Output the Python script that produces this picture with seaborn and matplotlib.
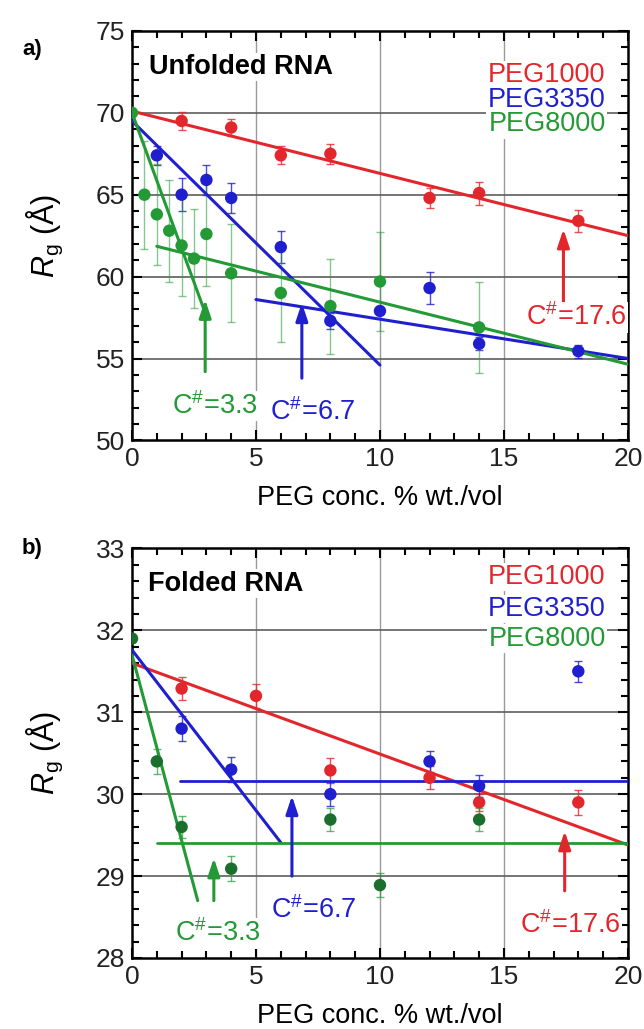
import numpy as np
import pandas as pd
import seaborn as sns
import matplotlib.pyplot as plt
from matplotlib.ticker import MultipleLocator

RED = "#e3262b"
BLUE = "#1f1fd0"
GREEN = "#239a35"
DKGREEN = "#1c6e2c"

# ---- panel a) unfolded RNA ----
a_peg1000_x = [2, 4, 6, 8, 12, 14, 18]
a_peg1000_y = [69.5, 69.1, 67.4, 67.5, 64.8, 65.1, 63.4]
a_peg1000_err = [0.55, 0.5, 0.55, 0.6, 0.6, 0.7, 0.65]
a_peg3350_x = [1, 2, 3, 4, 6, 8, 10, 12, 14, 18]
a_peg3350_y = [67.4, 65.0, 65.9, 64.8, 61.8, 57.3, 57.9, 59.3, 55.9, 55.45]
a_peg3350_err = [0.6, 1.0, 0.9, 0.9, 1.0, 0.5, 0.0, 1.0, 0.4, 0.4]
a_peg8000_x = [0, 0.5, 1, 1.5, 2, 2.5, 3, 4, 6, 8, 10, 14]
a_peg8000_y = [70.0, 65.0, 63.8, 62.8, 61.9, 61.1, 62.6, 60.2, 59.0, 58.2, 59.7, 56.9]
a_peg8000_err = [0.0, 3.3, 3.1, 3.1, 3.1, 3.0, 3.2, 3.0, 3.0, 2.9, 3.0, 2.8]

a_fit_red = ([0, 20], [70.1, 62.5])
a_fit_blue1 = ([0, 10], [69.5, 54.6])
a_fit_blue2 = ([5, 20], [58.6, 55.0])
a_fit_green1 = ([0, 2.9], [70.0, 58.0])
a_fit_green2 = ([1, 20], [61.85, 54.65])

# ---- panel b) folded RNA ----
b_peg1000_x = [2, 5, 8, 12, 14, 18]
b_peg1000_y = [31.29, 31.2, 30.29, 30.2, 29.9, 29.9]
b_peg1000_err = [0.14, 0.15, 0.15, 0.14, 0.1, 0.15]
b_peg3350_x = [2, 4, 8, 12, 14, 18]
b_peg3350_y = [30.8, 30.3, 30.0, 30.4, 30.1, 31.5]
b_peg3350_err = [0.15, 0.15, 0.15, 0.13, 0.13, 0.13]
b_peg8000_x = [0, 1, 2, 4, 8, 10, 14]
b_peg8000_y = [31.9, 30.4, 29.6, 29.09, 29.69, 28.89, 29.69]
b_peg8000_err = [0.0, 0.15, 0.13, 0.15, 0.14, 0.15, 0.14]

b_fit_red = ([0, 20], [31.6, 29.38])
b_fit_blue1 = ([0, 6], [31.76, 29.41])
b_fit_blue2 = ([1.95, 20], [30.16, 30.16])
b_fit_green1 = ([0, 2.65], [31.7, 28.7])
b_fit_green2 = ([1, 20], [29.4, 29.4])

sns.set_theme(style="white")
plt.rcParams['font.family'] = ['Liberation Sans', 'DejaVu Sans']
plt.rcParams['mathtext.fontset'] = 'custom'
plt.rcParams['mathtext.rm'] = 'Liberation Sans'
plt.rcParams['mathtext.it'] = 'Liberation Sans:italic'
plt.rcParams['mathtext.bf'] = 'Liberation Sans:bold'
plt.rcParams['text.color'] = 'black'
plt.rcParams['axes.labelcolor'] = 'black'
plt.rcParams['xtick.labelcolor'] = '#222222'
plt.rcParams['ytick.labelcolor'] = '#222222'

fig = plt.figure(figsize=(6.44, 10.29), dpi=100)
ax1 = fig.add_axes([0.205, 0.572, 0.770, 0.398])
ax2 = fig.add_axes([0.205, 0.069, 0.770, 0.398])

FS = 19
TFS = 19.5


def style_axis(ax, ylo, yhi, ymaj, ymin):
    ax.set_xlim(0, 20)
    ax.set_ylim(ylo, yhi)
    ax.xaxis.set_major_locator(MultipleLocator(5))
    ax.xaxis.set_minor_locator(MultipleLocator(1))
    ax.yaxis.set_major_locator(MultipleLocator(ymaj))
    ax.yaxis.set_minor_locator(MultipleLocator(ymin))
    ax.tick_params(which='both', direction='in', top=True, right=True,
                   bottom=True, left=True, width=1.5, color='black')
    ax.tick_params(which='major', length=7, labelsize=FS, pad=5)
    ax.tick_params(which='minor', length=5)
    for s in ax.spines.values():
        s.set_linewidth(1.8)
        s.set_color('black')
    for v in [5, 10, 15]:
        ax.axvline(v, color='#9a9a9a', lw=1.0, zorder=0)
    yt = np.arange(ylo + ymaj, yhi, ymaj)
    for v in yt:
        ax.axhline(v, color='#5e5e5e', lw=1.2, zorder=0)
    ax.set_xlabel("PEG conc. % wt./vol", fontsize=TFS, labelpad=10)
    ax.set_ylabel(r"$R_{\rm g}$ (Å)", fontsize=22, labelpad=22)


def series(ax, x, y, err, col, ecol, ealpha, ms=80):
    ax.errorbar(x, y, yerr=err, fmt='none', ecolor=ecol, alpha=ealpha,
                elinewidth=1.0, capsize=3, capthick=1.0, zorder=2)
    df = pd.DataFrame({'x': x, 'y': y})
    sns.scatterplot(data=df, x='x', y='y', ax=ax, color=col, s=ms,
                    edgecolor='none', zorder=4)


def fit(ax, pts, col, lw=2.2):
    df = pd.DataFrame({'x': pts[0], 'y': pts[1]})
    sns.lineplot(data=df, x='x', y='y', ax=ax, color=col, lw=lw, zorder=3,
                 estimator=None, sort=False)


def arrow(ax, x, ytip, ytail, col):
    ax.annotate('', xy=(x, ytip), xytext=(x, ytail),
                arrowprops=dict(arrowstyle='-|>,head_width=0.3,head_length=0.9',
                                color=col, lw=2.2, shrinkA=0, shrinkB=0),
                zorder=5)


box = dict(fc='white', ec='none', pad=1.0)

# panel a
style_axis(ax1, 50, 75, 5, 1)
fit(ax1, a_fit_red, RED)
fit(ax1, a_fit_blue1, BLUE)
fit(ax1, a_fit_blue2, BLUE)
fit(ax1, a_fit_green1, GREEN)
fit(ax1, a_fit_green2, GREEN)
series(ax1, a_peg1000_x, a_peg1000_y, a_peg1000_err, RED, RED, 0.8)
series(ax1, a_peg3350_x, a_peg3350_y, a_peg3350_err, BLUE, BLUE, 0.8)
series(ax1, a_peg8000_x, a_peg8000_y, a_peg8000_err, GREEN, GREEN, 0.55)
arrow(ax1, 2.95, 58.6, 54.2, GREEN)
arrow(ax1, 6.85, 58.4, 53.8, BLUE)
arrow(ax1, 17.4, 62.9, 58.3, RED)
ax1.text(1.6, 52.1, r"C$^{\#}$=3.3", color=GREEN, fontsize=TFS, va='center', bbox=box, zorder=6)
ax1.text(5.55, 51.7, r"C$^{\#}$=6.7", color=BLUE, fontsize=TFS, va='center', bbox=box, zorder=6)
ax1.text(19.95, 57.5, r"C$^{\#}$=17.6", color=RED, fontsize=TFS, va='center', ha='right', bbox=box, zorder=6)
ax1.text(0.7, 72.8, "Unfolded RNA", fontsize=TFS, fontweight='bold', va='center', bbox=box, zorder=6)
for lab, col, yy in [("PEG1000", RED, 72.3), ("PEG3350", BLUE, 70.8), ("PEG8000", GREEN, 69.3)]:
    ax1.text(19.1, yy, lab, color=col, fontsize=TFS, ha='right', va='center', bbox=box, zorder=6)

# panel b
style_axis(ax2, 28, 33, 1, 0.2)
fit(ax2, b_fit_red, RED)
fit(ax2, b_fit_blue1, BLUE)
fit(ax2, b_fit_blue2, BLUE, lw=2.0)
fit(ax2, b_fit_green1, GREEN)
fit(ax2, b_fit_green2, GREEN, lw=2.0)
series(ax2, b_peg1000_x, b_peg1000_y, b_peg1000_err, RED, RED, 0.8)
series(ax2, b_peg3350_x, b_peg3350_y, b_peg3350_err, BLUE, BLUE, 0.8)
series(ax2, b_peg8000_x, b_peg8000_y, b_peg8000_err, DKGREEN, GREEN, 0.7)
arrow(ax2, 3.3, 29.22, 28.7, GREEN)
arrow(ax2, 6.45, 29.98, 29.0, BLUE)
arrow(ax2, 17.45, 29.55, 28.82, RED)
ax2.text(1.75, 28.3, r"C$^{\#}$=3.3", color=GREEN, fontsize=TFS, va='center', bbox=box, zorder=6)
ax2.text(5.6, 28.58, r"C$^{\#}$=6.7", color=BLUE, fontsize=TFS, va='center', bbox=box, zorder=6)
ax2.text(19.7, 28.4, r"C$^{\#}$=17.6", color=RED, fontsize=TFS, va='center', ha='right', bbox=box, zorder=6)
ax2.text(0.65, 32.57, "Folded RNA", fontsize=TFS, fontweight='bold', va='center', bbox=box, zorder=6)
for lab, col, yy in [("PEG1000", RED, 32.65), ("PEG3350", BLUE, 32.26), ("PEG8000", GREEN, 31.9)]:
    ax2.text(19.1, yy, lab, color=col, fontsize=TFS, ha='right', va='center', bbox=box, zorder=6)

fig.text(0.034, 0.952, "a)", fontsize=16, fontweight='bold', va='center')
fig.text(0.034, 0.467, "b)", fontsize=16, fontweight='bold', va='center')

fig.savefig("out.png", dpi=100)
